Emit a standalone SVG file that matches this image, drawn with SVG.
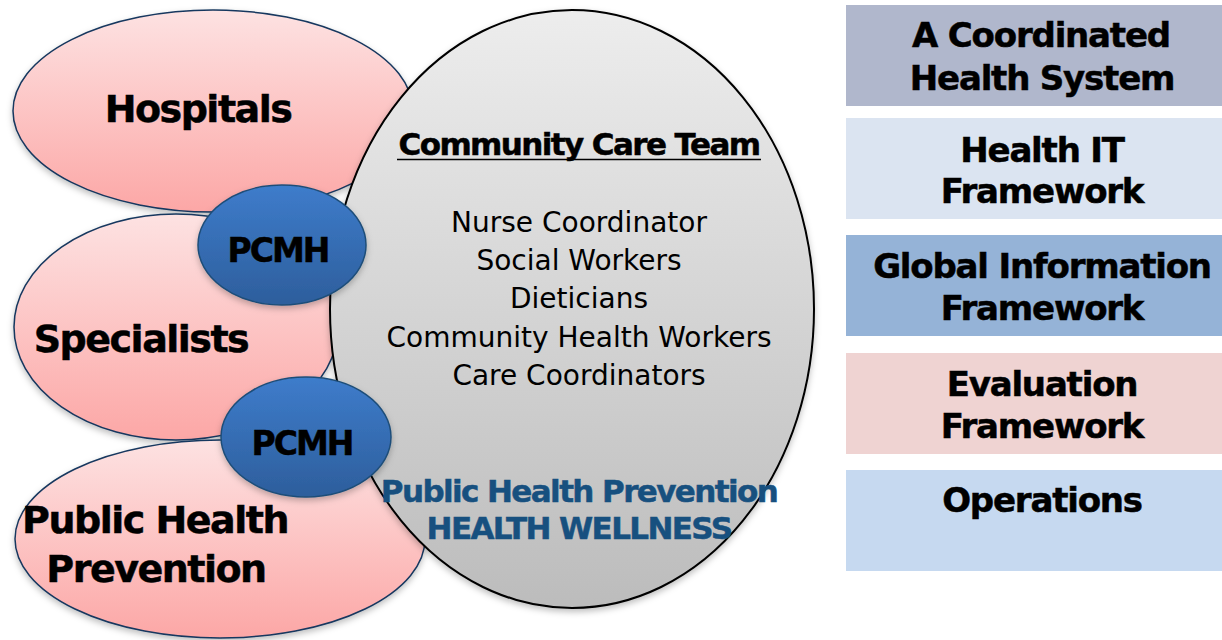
<svg xmlns="http://www.w3.org/2000/svg" width="1222" height="640" viewBox="0 0 1222 640">
<defs>
<linearGradient id="gPink" x1="0" y1="0" x2="0" y2="1">
<stop offset="0" stop-color="#fde2e2"/>
<stop offset="1" stop-color="#fca7a6"/>
</linearGradient>
<linearGradient id="gGray" x1="0" y1="0" x2="0" y2="1">
<stop offset="0" stop-color="#ededed"/>
<stop offset="1" stop-color="#bcbcbc"/>
</linearGradient>
<linearGradient id="gBlue" x1="0" y1="0" x2="0" y2="1">
<stop offset="0" stop-color="#3e7ccb"/>
<stop offset="1" stop-color="#2d5e9c"/>
</linearGradient>
<filter id="sh" x="-10%" y="-10%" width="120%" height="125%">
<feDropShadow dx="0" dy="3" stdDeviation="3" flood-color="#000" flood-opacity="0.25"/>
</filter>
</defs>
<style>
.pink{fill:url(#gPink);stroke:#17375e;stroke-width:1.5;filter:url(#sh)}
.gray{fill:url(#gGray);stroke:#000;stroke-width:2;filter:url(#sh)}
.pcmh{fill:url(#gBlue);stroke:#1f4e79;stroke-width:1.5;filter:url(#sh)}
.b{font-family:"DejaVu Sans",Verdana,sans-serif;font-weight:bold;text-anchor:middle;stroke-width:0.5}
.big{font-size:38px;letter-spacing:-1.5px;fill:#000;stroke:#000}
.pc{font-size:33px;letter-spacing:-2px;fill:#000;stroke:#000}
.hd{font-size:31px;letter-spacing:-1.6px;fill:#000;stroke:#000}
.ph{font-size:31px;letter-spacing:-1.6px;fill:#17507f;stroke:#17507f}
.bx{font-size:34px;letter-spacing:-1.2px;fill:#000;stroke:#000}
.lst{font-family:"DejaVu Sans",Verdana,sans-serif;font-size:28px;fill:#000;text-anchor:middle}
</style>
<rect width="1222" height="640" fill="#fff"/>

<g id="hospitals">
<ellipse class="pink" cx="213" cy="111" rx="200" ry="101"/>
</g>
<g id="specialists">
<ellipse class="pink" cx="176" cy="327" rx="162" ry="113"/>
</g>
<g id="public-health">
<ellipse class="pink" cx="220" cy="539" rx="205" ry="99"/>
</g>
<g id="community-care-team">
<ellipse class="gray" cx="572" cy="309" rx="242" ry="299"/>
</g>
<g id="pcmh-1">
<ellipse class="pcmh" cx="282" cy="245" rx="84" ry="60"/>
</g>
<g id="pcmh-2">
<ellipse class="pcmh" cx="306" cy="437" rx="85" ry="60"/>
</g>

<g id="labels">
<text class="b big" x="198" y="122">Hospitals</text>
<text class="b big" x="141" y="352">Specialists</text>
<text class="b big" x="155" y="533">Public Health</text>
<text class="b big" x="156" y="582">Prevention</text>
<text class="b pc" x="278" y="262">PCMH</text>
<text class="b pc" x="302" y="455">PCMH</text>
<text class="b hd" x="579" y="155">Community Care Team</text>
<line x1="397" y1="159.5" x2="761" y2="159.5" stroke="#000" stroke-width="1.5"/>
<text class="lst" x="579" y="232">Nurse Coordinator</text>
<text class="lst" x="579" y="270">Social Workers</text>
<text class="lst" x="579" y="308">Dieticians</text>
<text class="lst" x="579" y="347">Community Health Workers</text>
<text class="lst" x="579" y="385">Care Coordinators</text>
<text class="b ph" x="579" y="502">Public Health Prevention</text>
<text class="b ph" x="579" y="539">HEALTH WELLNESS</text>
</g>

<g id="box-coordinated">
<rect x="846" y="5" width="376" height="101" fill="#b0b7cc"/>
<text class="b bx" x="1041" y="47">A Coordinated</text>
<text class="b bx" x="1042" y="90">Health System</text>
</g>
<g id="box-health-it">
<rect x="846" y="118" width="376" height="101" fill="#dbe4f1"/>
<text class="b bx" x="1042" y="162">Health IT</text>
<text class="b bx" x="1042" y="203">Framework</text>
</g>
<g id="box-global">
<rect x="846" y="235" width="376" height="101" fill="#95b3d7"/>
<text class="b bx" x="1042" y="278">Global Information</text>
<text class="b bx" x="1042" y="320">Framework</text>
</g>
<g id="box-evaluation">
<rect x="846" y="353" width="376" height="101" fill="#efd3d2"/>
<text class="b bx" x="1042" y="396">Evaluation</text>
<text class="b bx" x="1042" y="438">Framework</text>
</g>
<g id="box-operations">
<rect x="846" y="470" width="376" height="101" fill="#c6d9f0"/>
<text class="b bx" x="1042" y="512">Operations</text>
</g>
</svg>
